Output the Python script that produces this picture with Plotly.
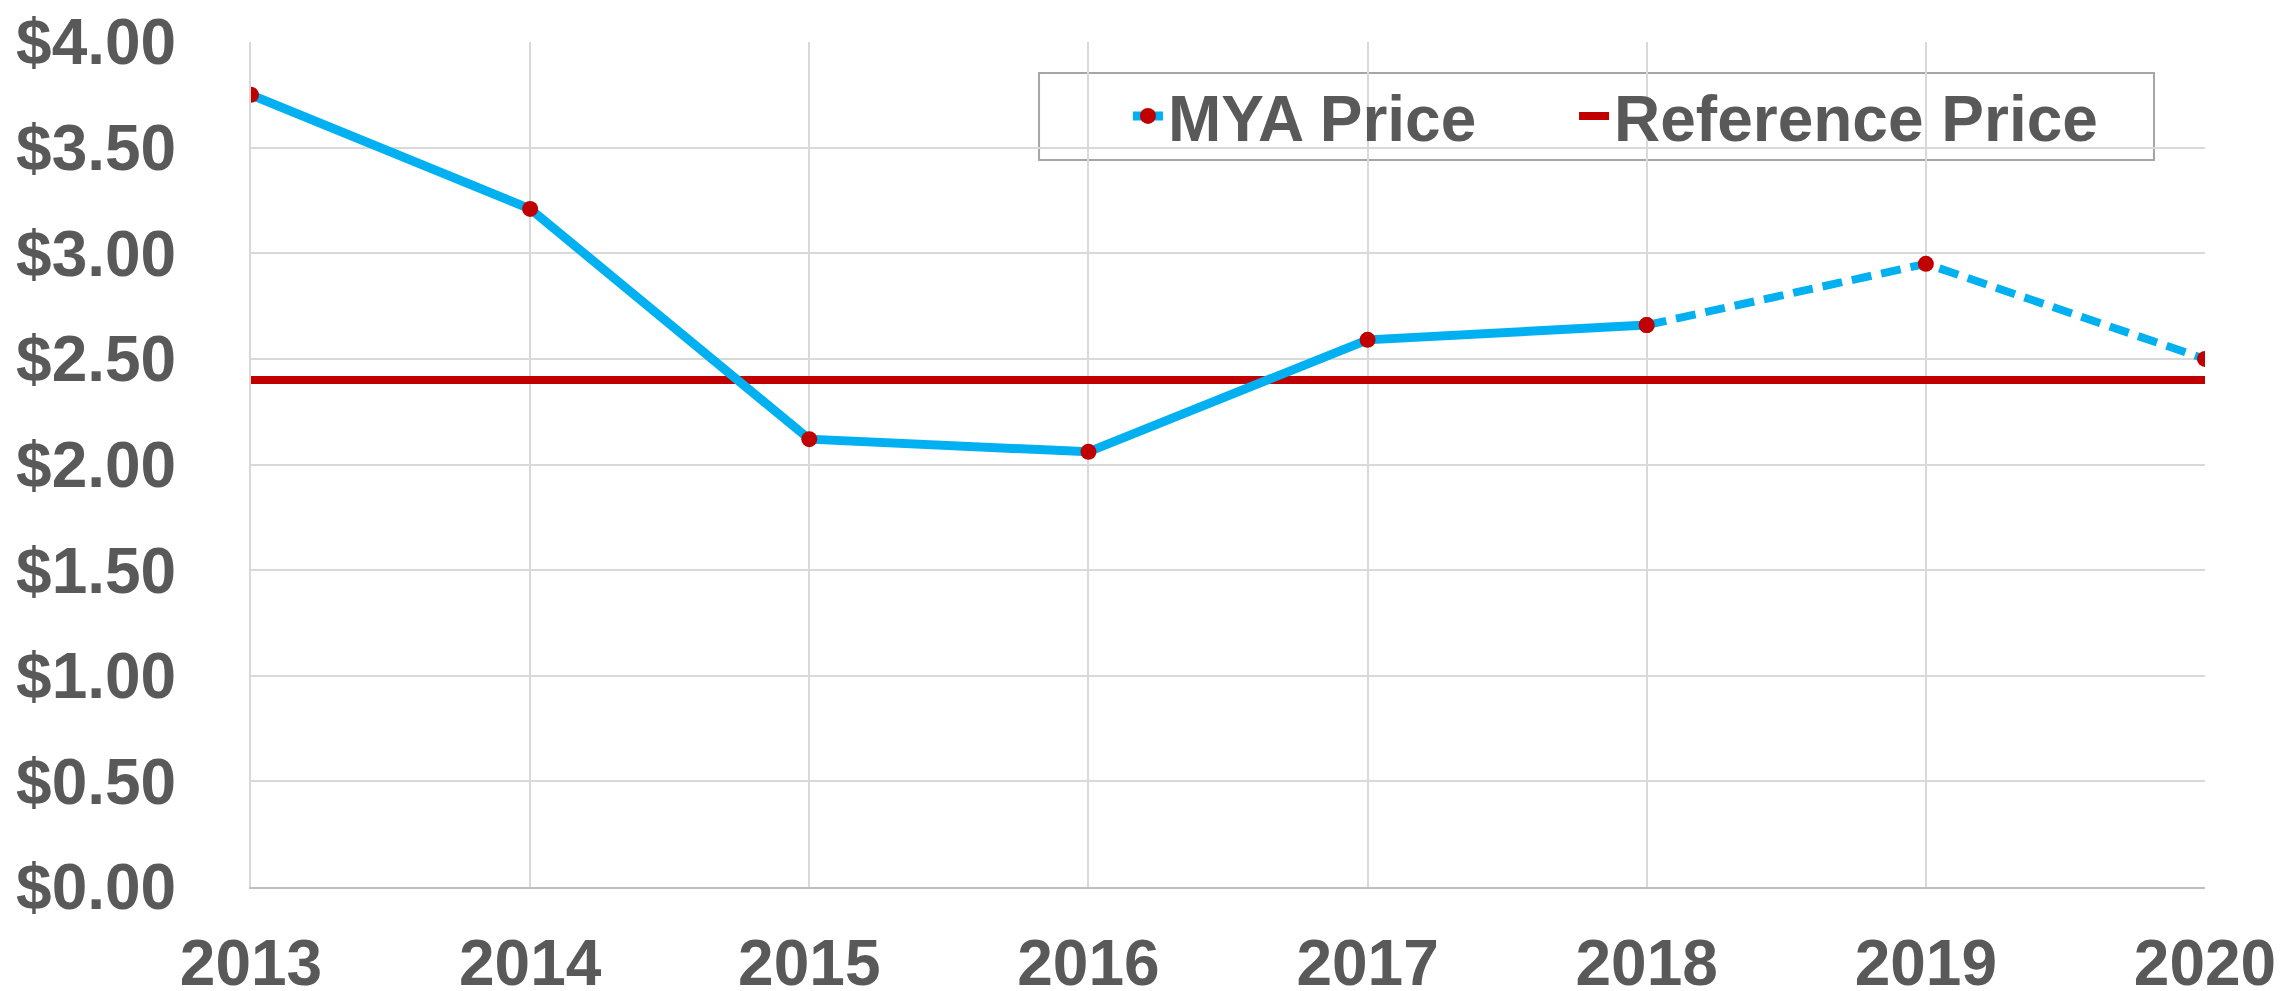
import plotly.graph_objects as go

years = [2013, 2014, 2015, 2016, 2017, 2018, 2019, 2020]
mya_price = [3.75, 3.21, 2.12, 2.06, 2.59, 2.66, 2.95, 2.50]
actual_years = years[:6]
actual_price = mya_price[:6]
proj_years = years[5:]
proj_price = mya_price[5:]
reference_price = [2.40] * len(years)
y_ticks = [0, 0.5, 1.0, 1.5, 2.0, 2.5, 3.0, 3.5, 4.0]
y_labels = ["$%.2f" % v for v in y_ticks]

BLUE = "#00B0F0"
RED = "#C00000"
TXT = "#595959"
FONT = "Liberation Sans, Arial, sans-serif"

fig = go.Figure()
fig.add_trace(go.Scatter(
    x=years, y=reference_price, mode="lines", name="Reference Price",
    line=dict(color=RED, width=8), legend="legend2",
))
fig.add_trace(go.Scatter(
    x=actual_years, y=actual_price, mode="lines+markers", name="MYA Price",
    line=dict(color=BLUE, width=9),
    marker=dict(color=RED, size=16, line=dict(width=0)),
    showlegend=True, legend="legend",
))
fig.add_trace(go.Scatter(
    x=proj_years, y=proj_price, mode="lines+markers", name="MYA Price",
    line=dict(color=BLUE, width=8, dash="20px,10px"),
    marker=dict(color=RED, size=16, line=dict(width=0)),
    showlegend=False,
))

legend_common = dict(
    orientation="h", yanchor="middle", xanchor="left",
    bgcolor="rgba(0,0,0,0)", borderwidth=0,
    font=dict(family=FONT, size=64, color=TXT, weight="bold"),
)

# legend frame (plot-area fraction coordinates)
fig.add_shape(type="rect", xref="paper", yref="paper",
              x0=0.4033, x1=0.9739, y0=0.8604, y1=0.9633,
              line=dict(color="#A6A6A6", width=2), fillcolor="white", layer="below")

fig.update_layout(
    width=2282, height=991,
    margin=dict(l=251, r=77, t=42, b=104, autoexpand=False),
    paper_bgcolor="white", plot_bgcolor="white",
    font=dict(family=FONT, color=TXT, size=64),
    legend=dict(x=0.4488, y=0.912, **legend_common),
    legend2=dict(x=0.6771, y=0.912, **legend_common),
)
fig.update_xaxes(
    range=[2013, 2020], tickmode="array", tickvals=years,
    ticktext=[str(y) for y in years],
    showgrid=True, gridcolor="#D9D9D9", gridwidth=2,
    showline=True, linecolor="#BFBFBF", linewidth=2,
    ticks="outside", ticklen=19, tickcolor="rgba(0,0,0,0)",
    tickfont=dict(family=FONT, size=64, color=TXT, weight="bold"),
    zeroline=False, automargin=False,
)
fig.update_yaxes(
    range=[0, 4], tickmode="array", tickvals=y_ticks, ticktext=y_labels,
    showgrid=True, gridcolor="#D9D9D9", gridwidth=2,
    showline=True, linecolor="#D9D9D9", linewidth=2,
    ticks="outside", ticklen=60, tickcolor="rgba(0,0,0,0)",
    tickfont=dict(family=FONT, size=64, color=TXT, weight="bold"),
    zeroline=False, automargin=False,
)

fig.write_html(
    "out.html",
    config={"displayModeBar": False},
    post_script="document.body.style.margin='0';document.body.style.overflow='hidden';",
)
